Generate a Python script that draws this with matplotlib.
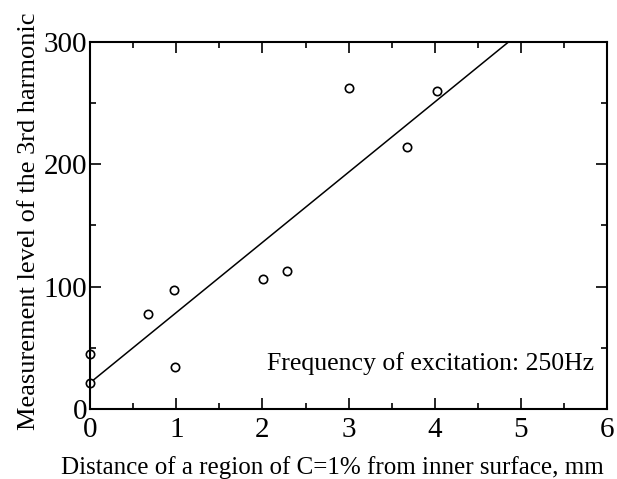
import matplotlib.pyplot as plt
from matplotlib.ticker import MultipleLocator

distance = [0.0, 0.0, 0.67, 0.97, 0.98, 2.01, 2.28, 3.01, 3.68, 4.02]
level = [45, 21, 78, 97, 34, 106, 113, 262, 214, 260]

# regression line drawn on the figure (end points)
fit_x = [0.0, 4.86]
fit_y = [21.5, 300]

plt.rcParams["font.family"] = ["Liberation Serif", "DejaVu Serif"]

fig = plt.figure(figsize=(6.17, 4.79), dpi=100)
ax = fig.add_axes([0.146, 0.146, 0.838, 0.767])

ax.plot(fit_x, fit_y, color="black", linewidth=1.1)
ax.plot(distance, level, "o", markersize=6, markerfacecolor="white",
        markeredgecolor="black", markeredgewidth=1.2, clip_on=False)

ax.set_xlim(0, 6)
ax.set_ylim(0, 300)
ax.xaxis.set_major_locator(MultipleLocator(1))
ax.xaxis.set_minor_locator(MultipleLocator(0.5))
ax.yaxis.set_major_locator(MultipleLocator(100))
ax.yaxis.set_minor_locator(MultipleLocator(50))
ax.tick_params(which="both", direction="in", top=True, right=True, width=1.2)
ax.tick_params(which="major", length=8, labelsize=21)
ax.tick_params(axis="x", which="major", pad=6)
ax.tick_params(axis="y", which="major", pad=2)
ax.tick_params(which="minor", length=4.5)
for s in ax.spines.values():
    s.set_linewidth(1.5)

ax.text(5.85, 37.5, "Frequency of excitation: 250Hz", ha="right", va="center",
        fontsize=18.5)

ax.set_xlabel("Distance of a region of C=1% from inner surface, mm",
              fontsize=18)
ax.xaxis.set_label_coords(0.468, -0.127)
ax.set_ylabel("Measurement level of the 3rd harmonic", fontsize=19)
ax.yaxis.set_label_coords(-0.097, 0.512)

fig.savefig("out.png", dpi=100)
